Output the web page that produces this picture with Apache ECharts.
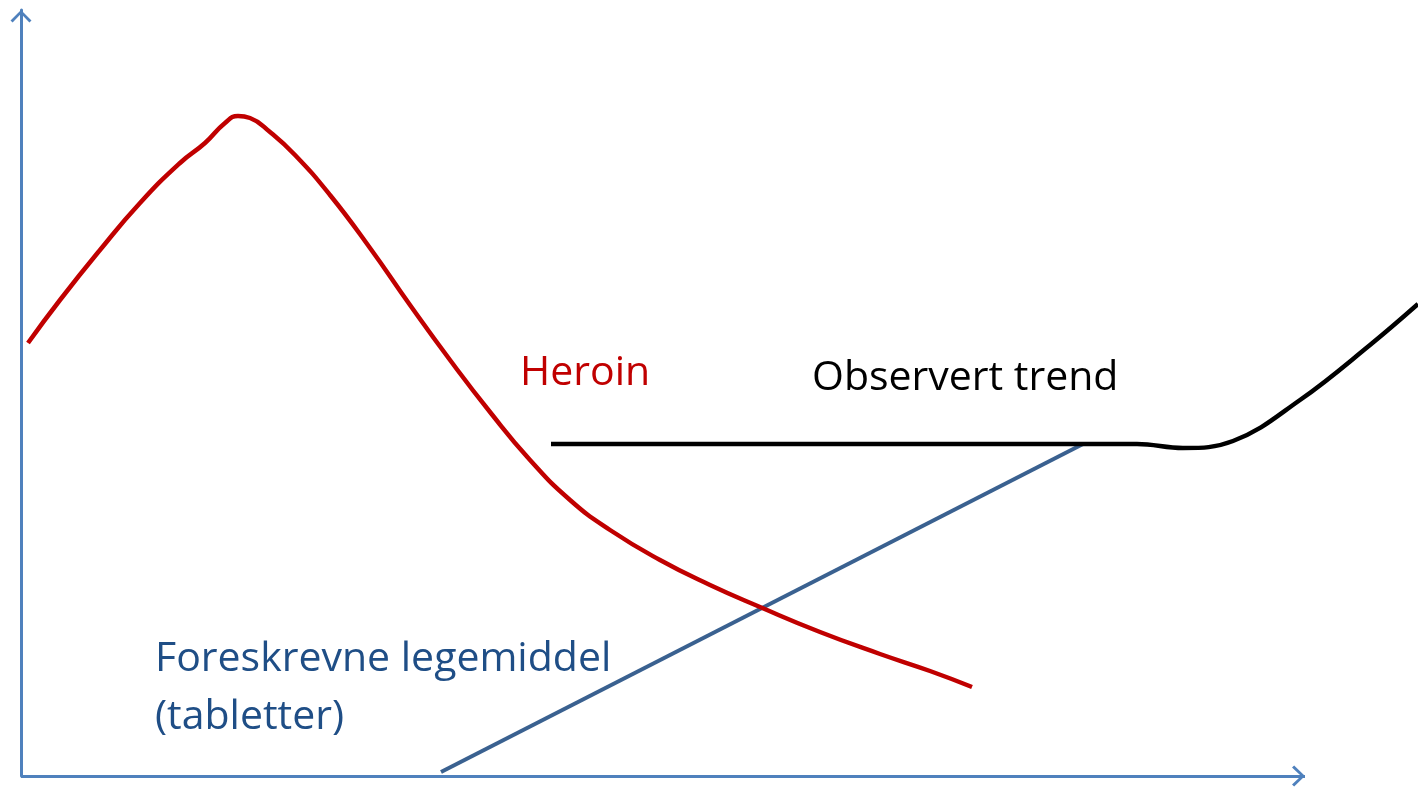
<!DOCTYPE html>
<html>
<head>
<meta charset="utf-8">
<title>Trend</title>
<script src="https://cdn.jsdelivr.net/npm/echarts@6/dist/echarts.min.js"></script>
<style>
  html, body { margin: 0; padding: 0; background: #fff; }
  #chart { width: 1418px; height: 789px; }
</style>
</head>
<body>
<div id="chart"></div>
<script>
  // illustrative curves, values on an arbitrary scale (x 0..1397, y 0..766)
  const heroinX = [7, 39, 79, 119, 159, 184, 204, 217, 229, 249, 274, 309, 349, 389, 429, 469, 509, 549, 589, 639, 689, 739, 799, 859, 909, 951]
  const heroinY = [433, 476, 526, 573, 613, 633, 653, 660, 658, 644, 621, 581, 528, 471, 416, 364, 316, 276, 246, 216, 191, 169, 144, 122, 105, 89]

  const tabletsX = [420, 1062]
  const tabletsY = [4, 332]

  const trendX = [530, 1116, 1162, 1212, 1279, 1349, 1397]
  const trendY = [332, 332, 328, 335, 376, 431, 472]

  const xAxisEnd = 1284

  const zip = (xs, ys) => xs.map((x, i) => [x, ys[i]])

  let myChart = echarts.init(document.getElementById('chart'))
  const axisColor = '#4F81BD'
  // open chevron, apex sits in the middle of the bounding box so it lands on the line end
  const chevron = 'path://M10,0 L20,10 L18,12 L10,3.6 L2,12 L0,10 Z M10,-12 L10,-12 Z'

  const option = {
    animation: false,
    grid: {
      left: 21,
      right: 0,
      top: 10,
      bottom: 13
    },
    xAxis: {
      type: 'value',
      min: 0,
      max: 1397,
      axisLine: { show: false },
      axisTick: { show: false },
      axisLabel: { show: false },
      splitLine: { show: false }
    },
    yAxis: {
      type: 'value',
      min: 0,
      max: 766,
      axisLine: {
        show: true,
        lineStyle: { color: axisColor, width: 3 },
        symbol: ['none', chevron],
        symbolSize: [21, 26]
      },
      axisTick: { show: false },
      axisLabel: { show: false },
      splitLine: { show: false }
    },
    series: [
      {
        name: 'Foreskrevne legemiddel',
        type: 'line',
        showSymbol: false,
        lineStyle: { color: '#3A6190', width: 4 },
        data: zip(tabletsX, tabletsY),
        markLine: {
          silent: true,
          animation: false,
          symbol: ['none', chevron],
          symbolSize: [21, 26],
          label: { show: false },
          lineStyle: { color: axisColor, width: 3, type: 'solid' },
          data: [[{ coord: [0, 0] }, { coord: [xAxisEnd, 0] }]]
        }
      },
      {
        name: 'Heroin',
        type: 'line',
        smooth: true,
        showSymbol: false,
        lineStyle: { color: '#C00000', width: 4.5 },
        data: zip(heroinX, heroinY)
      },
      {
        name: 'Observert trend',
        type: 'line',
        smooth: 0.4,
        showSymbol: false,
        lineStyle: { color: '#000000', width: 4.5 },
        data: zip(trendX, trendY)
      }
    ],
    graphic: [
      {
        type: 'text', left: 520, top: 353,
        style: { text: 'Heroin', fill: '#C00000', font: '41px "Open Sans"' }
      },
      {
        type: 'text', left: 812, top: 358,
        style: { text: 'Observert trend', fill: '#000000', font: '41px "Open Sans"' }
      },
      {
        type: 'text', left: 155, top: 630,
        style: { text: 'Foreskrevne legemiddel\n(tabletter)', fill: '#1F4E86', font: '41px "Open Sans"', lineHeight: 58 }
      }
    ]
  }
  myChart.setOption(option)
  window.addEventListener('resize', function () {
    myChart.resize()
  })
</script>
</body>
</html>
